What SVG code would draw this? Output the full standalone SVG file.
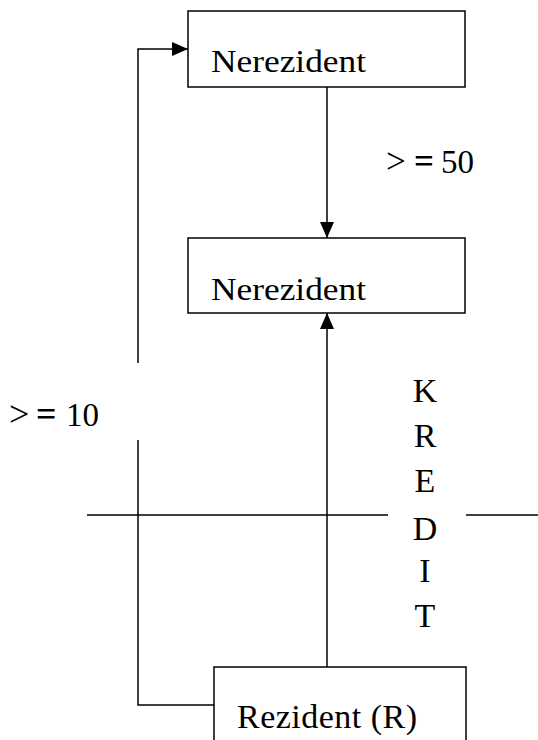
<svg xmlns="http://www.w3.org/2000/svg" width="538" height="740" viewBox="0 0 538 740">
<style>
.box{fill:#fff;stroke:#000;stroke-width:1.5}
.ln{fill:none;stroke:#000;stroke-width:1.5}
.t{font-family:"Liberation Serif","Times New Roman",serif;font-size:31px;fill:#000}
.k{font-family:"Liberation Serif","Times New Roman",serif;font-size:34px;fill:#000;text-anchor:middle}
.b{font-weight:bold}
</style>
<defs>
<marker id="ah" viewBox="0 0 16 14" refX="16" refY="7" markerWidth="16" markerHeight="14" markerUnits="userSpaceOnUse" orient="auto">
<path d="M0,0 L16,7 L0,14 Z" fill="#000"/>
</marker>
</defs>
<rect width="538" height="740" fill="#fff"/>
<g id="connectors">
<path class="ln" d="M327,87 V238" marker-end="url(#ah)"/>
<path class="ln" d="M327,667 V313" marker-end="url(#ah)"/>
<path class="ln" d="M214,705 H138 V440"/>
<path class="ln" d="M138,363 V49 H188" marker-end="url(#ah)"/>
<path class="ln" d="M87,515 H388 M466,515 H538"/>
</g>
<g id="n1"><rect class="box" x="188" y="11" width="277" height="76"/><text class="t" transform="translate(211,72) scale(1.14,1)">Nerezident</text></g>
<g id="n2"><rect class="box" x="188" y="238" width="277" height="75"/><text class="t" transform="translate(211,300) scale(1.14,1)">Nerezident</text></g>
<g id="n3"><rect class="box" x="214" y="667" width="252" height="80"/><text class="t" x="237" y="728" style="font-size:34px" textLength="180" lengthAdjust="spacing">Rezident (R)</text></g>
<g id="labels">
<text class="t" y="173"><tspan x="386" style="font-size:35px">&gt;</tspan><tspan x="414" class="b" style="font-size:35px">=</tspan><tspan x="441" style="font-size:33px">50</tspan></text>
<text class="t" y="426" style="font-size:33px"><tspan x="9" style="font-size:36px">&gt;</tspan><tspan x="36" class="b" style="font-size:36px">=</tspan><tspan x="66">10</tspan></text>
<text class="k" x="425" y="402">K</text>
<text class="k" x="425" y="447">R</text>
<text class="k" x="425" y="492">E</text>
<text class="k" x="425" y="540">D</text>
<text class="k" x="425" y="582">I</text>
<text class="k" x="425" y="627">T</text>
</g>
</svg>
